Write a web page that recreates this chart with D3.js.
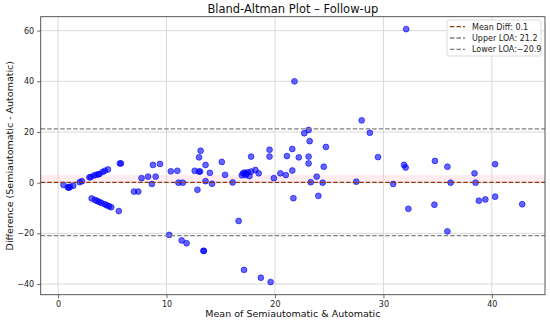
<!DOCTYPE html>
<html>
<head>
<meta charset="utf-8">
<script src="https://cdn.jsdelivr.net/npm/d3@7"></script>
<style>
body { margin: 0; background: #fff; }
svg { font-family: "DejaVu Sans", sans-serif; }
</style>
</head>
<body>
<div id="chart"></div>
<script>
const width = 550;
const height = 324;

// mean of the two methods
const meanVals = [
	0.5, 0.9, 1.0, 1.1, 1.4, 2.0, 2.2, 2.9, 3.0, 3.3, 3.5, 3.7, 3.8, 4.1, 4.3, 4.6, 5.7, 5.8,
	3.1, 3.4, 3.6, 3.8, 4.0, 4.3, 4.5, 4.7, 4.9, 5.6,
	7.0, 7.4, 7.7, 8.3, 8.65, 8.75, 9.0, 9.4, 10.4, 10.25, 11.0, 11.1, 11.5, 11.4, 11.85,
	12.6, 12.85, 13.0, 13.1, 13.0, 13.15, 13.4, 13.45, 13.6, 13.6, 14.0, 14.2, 15.1, 15.4,
	16.1, 16.65, 16.95, 17.05, 17.2, 17.35, 17.5, 17.65, 17.8, 17.3, 17.15, 17.8, 18.2,
	18.5, 18.7, 19.5, 19.5, 19.6, 19.9, 20.5, 21.0, 21.1, 21.6, 21.6, 21.7, 21.8, 22.2,
	22.7, 23.1, 23.2, 23.1, 23.1, 23.3, 23.85, 24.0, 24.4, 24.5, 24.7, 27.5, 28.0, 28.75,
	29.5, 30.9, 31.9, 32.05, 32.1, 32.3, 34.7, 34.75, 35.9, 35.9, 36.2, 38.4, 38.5, 38.8,
	39.4, 40.3, 40.3, 42.8
];
// difference semiautomatic - automatic
const diffVals = [
	-0.9, -1.8, -2.0, -1.6, -1.2, 0.2, 0.6, 2.1, 2.2, 2.8, 3.1, 3.3, 3.4, 4.2, 4.7, 5.2, 7.6, 7.6,
	-6.2, -6.8, -7.2, -7.6, -8.0, -8.5, -8.9, -9.3, -9.7, -11.2,
	-3.5, -3.5, 1.8, 2.4, -0.5, 7.0, 2.4, 7.4, 4.5, -20.6, 4.7, 0.0, 0.0, -22.8, -23.9,
	4.7, -2.8, 4.4, 4.4, 10.0, 12.6, -26.9, -26.9, 7.0, 0.6, 3.9, -0.4, 8.2, 3.1,
	0.1, -15.1, 2.9, 3.7, 4.0, 3.5, 4.1, 2.6, 4.4, 3.0, -34.4, 10.3, 5.0,
	3.7, -37.5, 13.0, 10.3, -39.2, 1.8, 3.7, 3.0, 10.5, 13.3, 4.8, -6.1, 40.0, 10.0,
	19.5, 20.8, 16.4, 10.3, 7.6, 0.2, 2.4, -5.2, 0.0, 6.3, 14.1, 0.4, 24.6, 19.7,
	10.1, -0.5, 7.0, 6.0, 60.6, -10.3, -8.7, 8.6, 6.3, -19.2, 0.0, 3.7, 0.0, -7.1,
	-6.6, 7.3, -5.5, -8.5
];

const meanDiff = 0.1;
const upperLOA = 21.2;
const lowerLOA = -20.9;
const bandVals = [0.1, 3.0];

const xTicks = [0, 10, 20, 30, 40];
const yTicks = [-40, -20, 0, 20, 40, 60];

const legendLabels = ["Mean Diff: 0.1", "Upper LOA: 21.2", "Lower LOA:\u221220.9"];

const margin = {left: 40.7, right: 5, top: 16.7, bottom: 29.3};

const x = d3.scaleLinear()
	.domain([-1.6, 44.9])
	.range([margin.left, width - margin.right]);

const y = d3.scaleLinear()
	.domain([-44.2, 65.5])
	.range([height - margin.bottom, margin.top]);

const svg = d3.select("#chart")
	.append("svg")
	.attr("width", width)
	.attr("height", height);

// grid
svg.append("g")
	.selectAll("line.gx")
	.data(xTicks)
	.enter()
	.append("line")
	.attr("x1", d => x(d)).attr("x2", d => x(d))
	.attr("y1", y.range()[0]).attr("y2", y.range()[1])
	.attr("stroke", "#cfcfcf")
	.attr("stroke-width", 0.8);

svg.append("g")
	.selectAll("line.gy")
	.data(yTicks)
	.enter()
	.append("line")
	.attr("x1", x.range()[0]).attr("x2", x.range()[1])
	.attr("y1", d => y(d)).attr("y2", d => y(d))
	.attr("stroke", "#cfcfcf")
	.attr("stroke-width", 0.8);

// shaded band near mean
svg.append("rect")
	.attr("x", x.range()[0])
	.attr("width", x.range()[1] - x.range()[0])
	.attr("y", y(bandVals[1]))
	.attr("height", y(bandVals[0]) - y(bandVals[1]))
	.attr("fill", "#ffc0cb")
	.attr("opacity", 0.3);

// points
svg.append("g")
	.selectAll("circle")
	.data(meanVals.map((m, i) => [m, diffVals[i]]))
	.enter()
	.append("circle")
	.attr("cx", d => x(d[0]))
	.attr("cy", d => y(d[1]))
	.attr("r", 2.9)
	.attr("fill", "blue")
	.attr("fill-opacity", 0.6)
	.attr("stroke", "blue")
	.attr("stroke-opacity", 0.6)
	.attr("stroke-width", 1);

// reference lines
const refLines = [
	{v: meanDiff, color: "#8b3a16"},
	{v: upperLOA, color: "#808080"},
	{v: lowerLOA, color: "#808080"}
];

svg.append("g")
	.selectAll("line")
	.data(refLines)
	.enter()
	.append("line")
	.attr("x1", x.range()[0]).attr("x2", x.range()[1])
	.attr("y1", d => y(d.v)).attr("y2", d => y(d.v))
	.attr("stroke", d => d.color)
	.attr("stroke-width", 1.3)
	.attr("stroke-dasharray", "4.5,2");

// frame
svg.append("rect")
	.attr("x", x.range()[0])
	.attr("y", y.range()[1])
	.attr("width", x.range()[1] - x.range()[0])
	.attr("height", y.range()[0] - y.range()[1])
	.attr("fill", "none")
	.attr("stroke", "#444")
	.attr("stroke-width", 0.9);

// axes
const xAxis = svg.append("g")
	.attr("transform", `translate(0,${y.range()[0]})`)
	.call(d3.axisBottom(x).tickValues(xTicks).tickSize(3.5).tickPadding(3).tickFormat(d3.format("d")));
const yAxis = svg.append("g")
	.attr("transform", `translate(${x.range()[0]},0)`)
	.call(d3.axisLeft(y).tickValues(yTicks).tickSize(3.5).tickPadding(3).tickFormat(d => d < 0 ? "\u2212" + Math.abs(d) : d));

[xAxis, yAxis].forEach(a => {
	a.select(".domain").remove();
	a.selectAll(".tick line").attr("stroke", "#444").attr("stroke-width", 0.8);
	a.selectAll(".tick text")
		.attr("fill", "#222")
		.style("font-size", "8px")
		.style("font-family", "DejaVu Sans");
});

// labels
svg.append("text")
	.attr("x", (x.range()[0] + x.range()[1]) / 2)
	.attr("y", 13)
	.attr("text-anchor", "middle")
	.style("font-size", "11.5px")
	.attr("fill", "#111")
	.text("Bland-Altman Plot \u2013 Follow-up");

svg.append("text")
	.attr("x", (x.range()[0] + x.range()[1]) / 2)
	.attr("y", 317)
	.attr("text-anchor", "middle")
	.style("font-size", "9.5px")
	.attr("fill", "#111")
	.text("Mean of Semiautomatic & Automatic");

svg.append("text")
	.attr("transform", `translate(13,${(y.range()[0] + y.range()[1]) / 2}) rotate(-90)`)
	.attr("text-anchor", "middle")
	.style("font-size", "9.5px")
	.attr("fill", "#111")
	.text("Difference (Semiautomatic - Automatic)");

// legend
const legend = svg.append("g").attr("transform", "translate(447,20)");
legend.append("rect")
	.attr("width", 94)
	.attr("height", 36)
	.attr("rx", 2)
	.attr("fill", "#fff")
	.attr("fill-opacity", 0.85)
	.attr("stroke", "#d0d0d0")
	.attr("stroke-width", 0.8);

const items = legend.selectAll("g.item")
	.data(refLines)
	.enter()
	.append("g")
	.attr("transform", (d, i) => `translate(0,${6.7 + i * 11.3})`);
items.append("line")
	.attr("x1", 3).attr("x2", 18)
	.attr("stroke", d => d.color)
	.attr("stroke-width", 1.3)
	.attr("stroke-dasharray", "4.5,2");
items.append("text")
	.attr("x", 25)
	.attr("y", 3)
	.style("font-size", "8px")
	.attr("fill", "#222")
	.text((d, i) => legendLabels[i]);
</script>
</body>
</html>
